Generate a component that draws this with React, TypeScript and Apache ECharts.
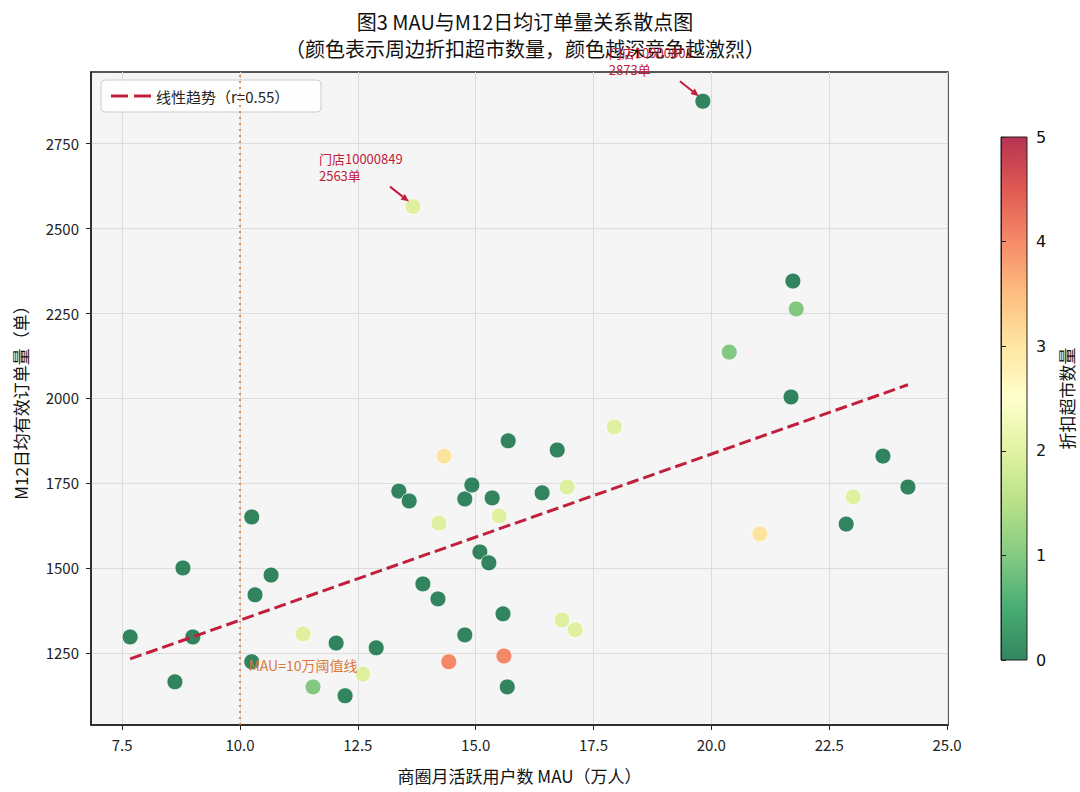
import { useEffect, useRef } from "react";
import * as echarts from "echarts";

// 商圈 MAU（万人）
const mau = [
  7.67, 8.62, 8.79, 9.0, 10.25, 10.25, 10.32, 10.66, 11.34, 11.55,
  12.04, 12.23, 12.61, 12.89, 13.37, 13.59, 13.67, 13.88, 14.2, 14.22,
  14.33, 14.43, 14.77, 14.77, 14.92, 15.09, 15.28, 15.35, 15.5, 15.58,
  15.6, 15.67, 15.69, 16.41, 16.73, 16.83, 16.94, 17.11, 17.94, 19.82,
  20.38, 21.03, 21.69, 21.73, 21.8, 22.86, 23.01, 23.64, 24.17,
];

// M12 日均有效订单量（单）
const orders = [
  1297, 1165, 1500, 1297, 1650, 1224, 1421, 1479, 1306, 1150,
  1279, 1124, 1188, 1265, 1726, 1697, 2563, 1453, 1409, 1632,
  1829, 1224, 1303, 1703, 1744, 1547, 1515, 1706, 1653, 1365,
  1241, 1150, 1874, 1721, 1847, 1347, 1738, 1318, 1915, 2873,
  2135, 1600, 2003, 2344, 2262, 1629, 1709, 1829, 1738,
];

// 周边折扣超市数量
const competitors = [
  0, 0, 0, 0, 0, 0, 0, 0, 2, 1,
  0, 0, 2, 0, 0, 0, 2, 0, 0, 2,
  3, 4, 0, 0, 0, 0, 0, 0, 2, 0,
  4, 0, 0, 0, 0, 2, 2, 2, 2, 0,
  1, 3, 0, 0, 1, 0, 2, 0, 0,
];

const highlightStores = [
  { id: "10000849", index: 16 },
  { id: "10000801", index: 39 },
];

const xTicks = [7.5, 10, 12.5, 15, 17.5, 20, 22.5, 25];
const yTicks = [1250, 1500, 1750, 2000, 2250, 2500, 2750];
const mauThreshold = 10;
const trendR = 0.55;

// RdYlGn reversed: 0 -> green, 5 -> red
const rdYlGnR = [
  "#006837", "#1a9850", "#66bd63", "#a6d96a", "#d9ef8b", "#ffffbf",
  "#fee08b", "#fdae61", "#f46d43", "#d73027", "#a50026",
];

const FONT = "'Noto Sans CJK SC', 'Noto Sans', sans-serif";
const RED = "#c0203d";
const ORANGE = "#d9793a";

function withAlpha(hex: string, a: number) {
  const n = parseInt(hex.slice(1), 16);
  return `rgba(${(n >> 16) & 255},${(n >> 8) & 255},${n & 255},${a})`;
}

function linearFit(xs: number[], ys: number[]) {
  const n = xs.length;
  const mx = xs.reduce((s, v) => s + v, 0) / n;
  const my = ys.reduce((s, v) => s + v, 0) / n;
  let sxy = 0;
  let sxx = 0;
  for (let i = 0; i < n; i++) {
    sxy += (xs[i] - mx) * (ys[i] - my);
    sxx += (xs[i] - mx) ** 2;
  }
  const slope = sxy / sxx;
  return { slope, intercept: my - slope * mx };
}

function buildOption(): echarts.EChartsOption {
  const fit = linearFit(mau, orders);
  const x0 = Math.min(...mau);
  const x1 = Math.max(...mau);
  const trend = [
    [x0, fit.intercept + fit.slope * x0],
    [x1, fit.intercept + fit.slope * x1],
  ];
  const points = mau.map((x, i) => [x, orders[i], competitors[i]]);
  const trendName = `线性趋势（r=${trendR.toFixed(2)}）`;

  const barStops = rdYlGnR.map((c, i) => ({
    offset: i / (rdYlGnR.length - 1),
    color: withAlpha(c, 0.8),
  }));

  return {
    animation: false,
    backgroundColor: "#ffffff",
    textStyle: { fontFamily: FONT },
    title: {
      text: "图3 MAU与M12日均订单量关系散点图\n（颜色表示周边折扣超市数量，颜色越深竞争越激烈）",
      left: 520,
      top: 3,
      textAlign: "center",
      textStyle: { fontSize: 20, fontWeight: "normal", color: "#111", lineHeight: 27, fontFamily: FONT },
    },
    legend: {
      left: 101,
      top: 80,
      data: [{ name: trendName, icon: "path://M0,0H17V3H0Z M23,0H40V3H23Z" }],
      itemWidth: 40,
      itemHeight: 3,
      itemGap: 10,
      padding: [8, 10, 8, 10],
      backgroundColor: "rgba(255,255,255,0.85)",
      borderColor: "#cccccc",
      borderWidth: 1,
      borderRadius: 4,
      textStyle: { fontSize: 15, color: "#222", fontFamily: FONT, width: 155, lineHeight: 16 },
    },
    grid: [
      {
        left: 91,
        top: 72,
        width: 857,
        height: 653,
        show: true,
        backgroundColor: "#f5f5f5",
        borderColor: "#222",
        borderWidth: 1.5,
      },
      {
        left: 1001,
        top: 137,
        width: 26,
        height: 523,
        show: true,
        backgroundColor: new echarts.graphic.LinearGradient(0, 1, 0, 0, barStops),
        borderColor: "#222",
        borderWidth: 1,
      },
    ],
    xAxis: [
      {
        type: "value",
        gridIndex: 0,
        min: 6.84,
        max: 25.02,
        name: "商圈月活跃用户数 MAU（万人）",
        nameLocation: "middle",
        nameGap: 42,
        nameTextStyle: { fontSize: 17, color: "#111", fontFamily: FONT },
        axisLine: { show: true, onZero: false, lineStyle: { color: "#222", width: 1.5 } },
        axisTick: { show: true, length: 5, customValues: xTicks, lineStyle: { color: "#222" } },
        axisLabel: {
          customValues: xTicks,
          margin: 12,
          fontSize: 15,
          color: "#222",
          fontFamily: FONT,
          formatter: (v: number) => v.toFixed(1),
        },
        splitLine: { show: true, lineStyle: { color: "#dcdcdc", width: 1 } },
      },
      { type: "value", gridIndex: 1, show: false, min: 0, max: 1 },
    ],
    yAxis: [
      {
        type: "value",
        gridIndex: 0,
        min: 1038,
        max: 2959,
        name: "M12日均有效订单量（单）",
        nameLocation: "middle",
        nameGap: 62,
        nameTextStyle: { fontSize: 17, color: "#111", fontFamily: FONT },
        axisLine: { show: true, onZero: false, lineStyle: { color: "#222", width: 1.5 } },
        axisTick: { show: true, length: 5, customValues: yTicks, lineStyle: { color: "#222" } },
        axisLabel: {
          customValues: yTicks,
          margin: 12,
          fontSize: 15,
          color: "#222",
          fontFamily: FONT,
          formatter: (v: number) => String(v),
        },
        splitLine: { show: true, lineStyle: { color: "#dcdcdc", width: 1 } },
      },
      {
        type: "value",
        gridIndex: 1,
        position: "right",
        min: 0,
        max: 5,
        interval: 1,
        name: "折扣超市数量",
        nameLocation: "middle",
        nameRotate: 90,
        nameGap: 31,
        nameTextStyle: { fontSize: 17, color: "#111", fontFamily: FONT },
        axisLine: { show: true, lineStyle: { color: "#222", width: 1 } },
        axisTick: { show: true, length: 5, lineStyle: { color: "#222" } },
        axisLabel: { margin: 9, fontSize: 16, color: "#111", fontFamily: "'DejaVu Sans', sans-serif" },
        splitLine: { show: false },
      },
    ],
    visualMap: {
      type: "continuous",
      show: false,
      min: 0,
      max: 5,
      dimension: 2,
      seriesIndex: 0,
      inRange: { color: rdYlGnR },
    },
    series: [
      {
        type: "scatter",
        xAxisIndex: 0,
        yAxisIndex: 0,
        data: points,
        symbolSize: 16,
        itemStyle: { opacity: 0.8, borderColor: "#ffffff", borderWidth: 1 },
        z: 3,
      },
      {
        type: "line",
        name: trendName,
        xAxisIndex: 0,
        yAxisIndex: 0,
        data: trend,
        symbol: "none",
        color: RED,
        lineStyle: { color: RED, width: 3, type: [12, 5] },
        z: 4,
        markLine: {
          silent: true,
          symbol: "none",
          label: { show: false },
          lineStyle: { color: ORANGE, width: 2, type: [2, 4], opacity: 0.8 },
          data: [{ xAxis: mauThreshold }],
        },
      },
    ],
  };
}

function annotationGraphics(chart: echarts.ECharts) {
  const els: any[] = [];
  highlightStores.forEach(({ id, index }) => {
    const [px, py] = chart.convertToPixel({ gridIndex: 0 }, [mau[index], orders[index]]) as number[];
    els.push({
      type: "text",
      x: px - 94,
      y: py - 57,
      z: 10,
      style: {
        text: `门店${id}\n${orders[index]}单`,
        fill: RED,
        font: `13px ${FONT}`,
        lineHeight: 17,
      },
    });
    const sx = px - 23;
    const sy = py - 20;
    const ex = px - 4;
    const ey = py - 5;
    const ang = Math.atan2(ey - sy, ex - sx);
    const hl = 8;
    const hw = 3.5;
    const bx = ex - hl * Math.cos(ang);
    const by = ey - hl * Math.sin(ang);
    els.push({
      type: "line",
      z: 10,
      shape: { x1: sx, y1: sy, x2: bx, y2: by },
      style: { stroke: RED, lineWidth: 2 },
    });
    els.push({
      type: "polygon",
      z: 10,
      shape: {
        points: [
          [ex, ey],
          [bx + hw * Math.sin(ang), by - hw * Math.cos(ang)],
          [bx - hw * Math.sin(ang), by + hw * Math.cos(ang)],
        ],
      },
      style: { fill: RED },
    });
  });

  const [tx, ty] = chart.convertToPixel({ gridIndex: 0 }, [mauThreshold + 0.18, 1215]) as number[];
  els.push({
    type: "text",
    x: tx,
    y: ty,
    z: 10,
    style: {
      text: `MAU=${mauThreshold}万阈值线`,
      fill: ORANGE,
      font: `14px ${FONT}`,
      verticalAlign: "middle",
    },
  });
  return els;
}

export default function App() {
  const nodeRef = useRef<HTMLDivElement | null>(null);

  useEffect(() => {
    if (!nodeRef.current) return;
    const chart = echarts.init(nodeRef.current, undefined, { renderer: "svg" });
    chart.setOption(buildOption());
    chart.setOption({ graphic: annotationGraphics(chart) });
    return () => chart.dispose();
  }, []);

  return (
    <div
      ref={nodeRef}
      style={{ position: "absolute", left: 0, top: 0, width: 1080, height: 792, background: "#fff" }}
    />
  );
}
